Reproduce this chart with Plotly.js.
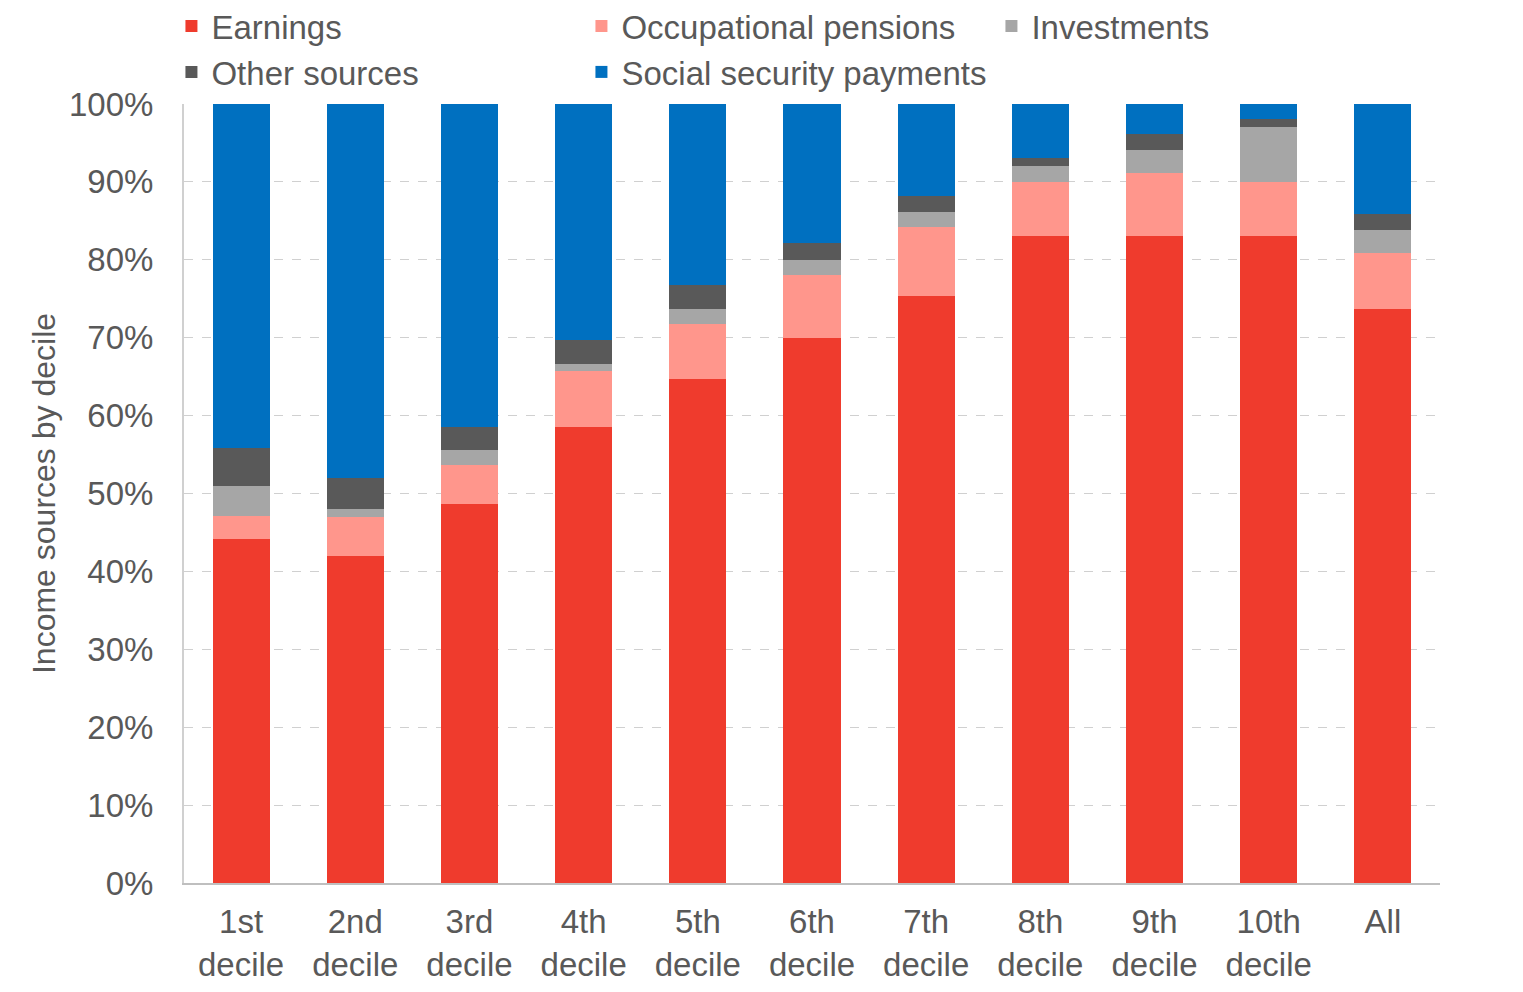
<!DOCTYPE html>
<html>
<head>
<meta charset="utf-8">
<script src="https://cdn.plot.ly/plotly-3.0.1.min.js"></script>
<style>html,body{margin:0;padding:0;background:#fff;}#chart{width:1523px;height:992px;}</style>
</head>
<body>
<div id="chart"></div>
<script>
const categories = ["1st<br>decile","2nd<br>decile","3rd<br>decile","4th<br>decile","5th<br>decile","6th<br>decile","7th<br>decile","8th<br>decile","9th<br>decile","10th<br>decile","All"];
const earnings      = [44.2, 42.0, 48.6, 58.5, 64.7, 70.0, 75.3, 83.1, 83.1, 83.1, 73.7];
const occupational  = [ 2.9,  5.0,  5.0,  7.2,  7.1,  8.0,  8.9,  6.9,  8.0,  6.9,  7.2];
const investments   = [ 3.9,  1.0,  2.0,  0.9,  1.9,  2.0,  2.0,  2.0,  3.0,  7.0,  2.9];
const otherSources  = [ 4.9,  4.0,  2.9,  3.1,  3.1,  2.1,  2.0,  1.1,  2.0,  1.1,  2.1];
const socialSec     = [44.1, 48.0, 41.5, 30.3, 23.2, 17.9, 11.8,  6.9,  4.0,  1.9, 14.1];

const seriesNames = ["Earnings","Occupational pensions","Investments","Other sources","Social security payments"];
const seriesData = [earnings, occupational, investments, otherSources, socialSec];
const seriesColors = ["#ef3b2d","#ff968c","#a6a6a6","#595959","#0070c0"];

const traces = seriesData.map((vals, i) => ({
  type: "bar",
  name: seriesNames[i],
  x: categories,
  y: vals.map(v => v / 100),
  marker: {color: seriesColors[i], line: {width: 0}},
  hoverinfo: "skip"
}));

const layout = {
  width: 1523, height: 992,
  barmode: "stack",
  bargap: 0.5,
  paper_bgcolor: "#ffffff",
  plot_bgcolor: "#ffffff",
  margin: {l: 184, r: 83, t: 104, b: 109, autoexpand: false},
  font: {family: "Liberation Sans, Arial, sans-serif", size: 33, color: "#595959"},
  showlegend: true,
  legend: {
    orientation: "h",
    x: -0.010, xanchor: "left",
    y: 1.136, yanchor: "top",
    traceorder: "normal",
    entrywidth: 365, entrywidthmode: "pixels",
    font: {size: 33, color: "#595959"},
    itemwidth: 30,
    tracegroupgap: 0,
    bgcolor: "rgba(0,0,0,0)"
  },
  xaxis: {
    type: "category",
    showline: true, linecolor: "#bfbfbf", linewidth: 2,
    ticks: "", showgrid: false,
    tickfont: {size: 33, color: "#595959"},
    ticklabelstandoff: 8,
    zeroline: false
  },
  yaxis: {
    range: [0, 1],
    tickformat: ".0%",
    dtick: 0.1,
    showgrid: true, gridcolor: "#d0d0d0", griddash: "dash", gridwidth: 1,
    showline: true, linecolor: "#d0d0d0", linewidth: 2,
    ticks: "",
    zeroline: false,
    tickfont: {size: 33, color: "#595959"},
    ticklabelstandoff: 22,
    title: {text: "Income sources by decile", font: {size: 32, color: "#595959"}, standoff: 4}
  }
};

Plotly.newPlot("chart", traces, layout, {displayModeBar: false, staticPlot: true});
</script>
</body>
</html>
